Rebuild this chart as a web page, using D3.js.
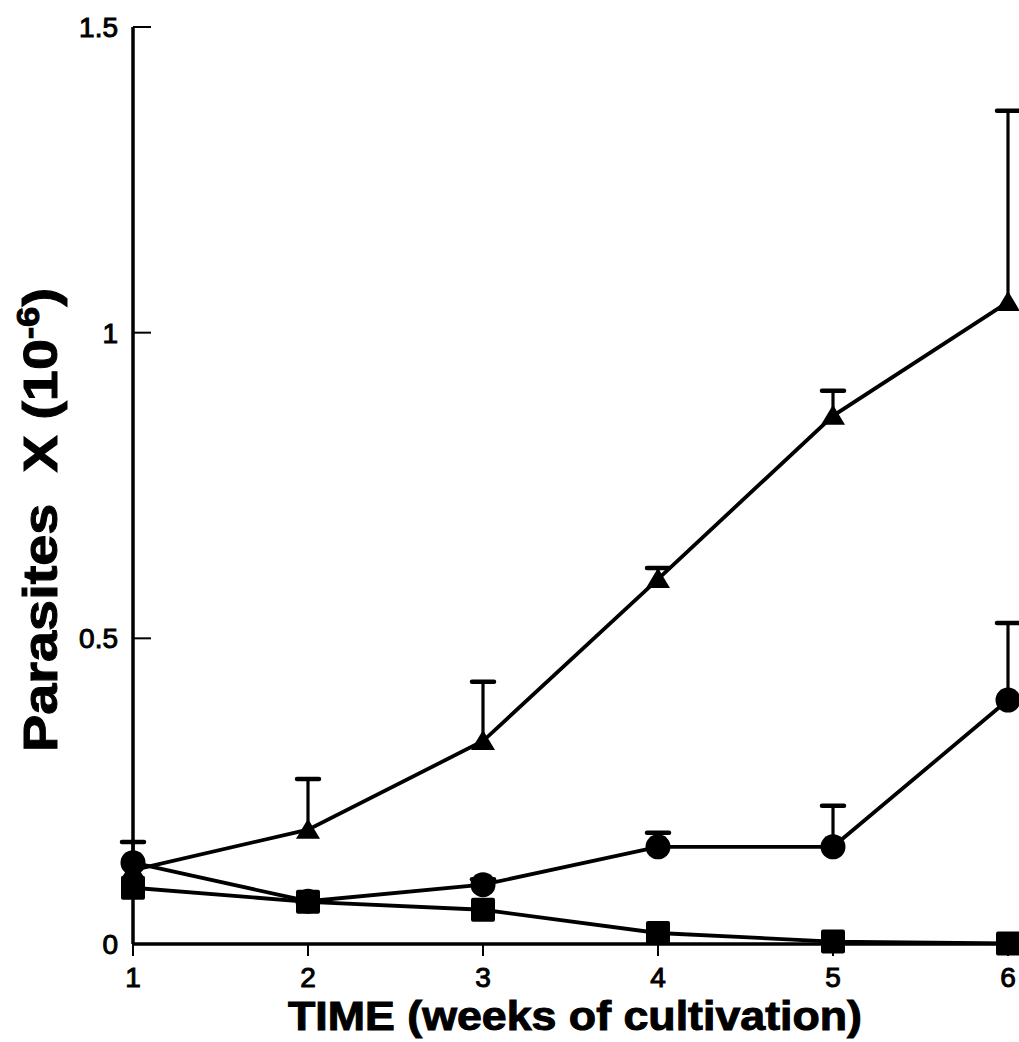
<!DOCTYPE html>
<html>
<head>
<meta charset="utf-8">
<script src="https://cdn.jsdelivr.net/npm/d3@7"></script>
<style>
  html, body { margin: 0; padding: 0; background: #fff; }
  svg { display: block; }
  text { font-family: "Liberation Sans", Arial, Helvetica, sans-serif; fill: #000; }
</style>
</head>
<body>
<svg id="chart" width="1019" height="1042"></svg>
<script>
// Weeks of cultivation
const weeks = [1, 2, 3, 4, 5, 6];

// Parasite counts (x 10^-6) per series, with upper error (mean + SD)
const triangleMean = [0.121, 0.187, 0.332, 0.597, 0.864, 1.050];
const triangleUpper = [0.167, 0.270, 0.429, 0.615, 0.905, 1.363];

const circleMean = [0.133, 0.070, 0.097, 0.159, 0.159, 0.399];
const circleUpper = [null, null, 0.106, 0.182, 0.226, 0.525];

const squareMean = [0.092, 0.069, 0.056, 0.018, 0.004, 0.001];

const yTicks = [0, 0.5, 1, 1.5];
const yTickLabels = ["0", "0.5", "1", "1.5"];
const xTickLabels = ["1", "2", "3", "4", "5", "6"];

const svg = d3.select("#chart");

const x = d3.scaleLinear().domain([1, 6]).range([133, 1008]);
const y = d3.scaleLinear().domain([0, 1.5]).range([944, 27]);

const ink = "#000";

// Axes lines
svg.append("line")
  .attr("x1", x(1)).attr("x2", x(1))
  .attr("y1", y(1.5)).attr("y2", y(0))
  .attr("stroke", ink).attr("stroke-width", 3.5);
svg.append("line")
  .attr("x1", x(1)).attr("x2", 1019)
  .attr("y1", y(0)).attr("y2", y(0))
  .attr("stroke", ink).attr("stroke-width", 3.5);

// Y ticks point inward
svg.selectAll(".ytick").data(yTicks.filter(d => d > 0)).enter()
  .append("line")
  .attr("x1", x(1)).attr("x2", x(1) + 18)
  .attr("y1", d => y(d)).attr("y2", d => y(d))
  .attr("stroke", ink).attr("stroke-width", 2);

svg.selectAll(".ylab").data(yTicks).enter()
  .append("text")
  .attr("x", 118)
  .attr("y", d => y(d))
  .attr("dy", "0.36em")
  .attr("text-anchor", "end")
  .attr("font-size", 28)
  .attr("stroke", ink).attr("stroke-width", 1)
  .text((d, i) => yTickLabels[i]);

// X ticks point downward
svg.selectAll(".xtick").data(weeks).enter()
  .append("line")
  .attr("x1", d => x(d)).attr("x2", d => x(d))
  .attr("y1", y(0)).attr("y2", y(0) + 12)
  .attr("stroke", ink).attr("stroke-width", 2);

svg.selectAll(".xlab").data(weeks).enter()
  .append("text")
  .attr("x", d => x(d))
  .attr("y", 987)
  .attr("text-anchor", "middle")
  .attr("font-size", 28)
  .attr("stroke", ink).attr("stroke-width", 1)
  .text((d, i) => xTickLabels[i]);

// Axis titles
svg.append("text")
  .attr("x", 575).attr("y", 1030)
  .attr("text-anchor", "middle")
  .attr("font-size", 40)
  .attr("font-weight", "bold")
  .attr("stroke", ink).attr("stroke-width", 1)
  .attr("textLength", 574)
  .attr("lengthAdjust", "spacingAndGlyphs")
  .text("TIME (weeks of cultivation)");

const yTitle = svg.append("text")
  .attr("transform", "translate(57,520) rotate(-90) scale(1.14,1)")
  .attr("text-anchor", "middle")
  .attr("font-size", 49)
  .attr("font-weight", "bold")
  .attr("stroke", ink).attr("stroke-width", 1);
yTitle.append("tspan").text("Parasites\u00a0\u00a0X (10");
yTitle.append("tspan").attr("font-size", 32).attr("dy", -18).text("-6");
yTitle.append("tspan").attr("dy", 18).text(")");

// Series lines
const line = d3.line().x(d => x(d[0])).y(d => y(d[1]));
[squareMean, circleMean, triangleMean].forEach(s => {
  svg.append("path")
    .datum(weeks.map((w, i) => [w, s[i]]))
    .attr("d", line)
    .attr("fill", "none")
    .attr("stroke", ink)
    .attr("stroke-width", 3.8);
});

// Upper error bars
function errorBars(mean, upper) {
  const data = weeks.map((w, i) => ({ w, m: mean[i], u: upper[i] })).filter(d => d.u != null);
  const g = svg.append("g");
  g.selectAll("line.stem").data(data).enter().append("line")
    .attr("x1", d => x(d.w)).attr("x2", d => x(d.w))
    .attr("y1", d => y(d.m)).attr("y2", d => y(d.u))
    .attr("stroke", ink).attr("stroke-width", 3.2);
  g.selectAll("line.cap").data(data).enter().append("line")
    .attr("x1", d => x(d.w) - 11).attr("x2", d => x(d.w) + 11)
    .attr("y1", d => y(d.u)).attr("y2", d => y(d.u))
    .attr("stroke", ink).attr("stroke-width", 4.5)
    .attr("stroke-linecap", "round");
}
errorBars(triangleMean, triangleUpper);
errorBars(circleMean, circleUpper);

// Markers
svg.selectAll(".sq").data(weeks).enter().append("rect")
  .attr("x", (d) => x(d) - 12)
  .attr("y", (d, i) => y(squareMean[i]) - 12)
  .attr("width", 24).attr("height", 24)
  .attr("rx", 2)
  .attr("fill", ink);

svg.selectAll(".tri").data(weeks).enter().append("path")
  .attr("transform", (d, i) => `translate(${x(d)},${y(triangleMean[i])})`)
  .attr("d", "M0,-11 L12,9 L-12,9 Z")
  .attr("fill", ink);

svg.selectAll(".ci").data(weeks).enter().append("circle")
  .attr("cx", d => x(d))
  .attr("cy", (d, i) => y(circleMean[i]))
  .attr("r", 12.5)
  .attr("fill", ink);
</script>
</body>
</html>
